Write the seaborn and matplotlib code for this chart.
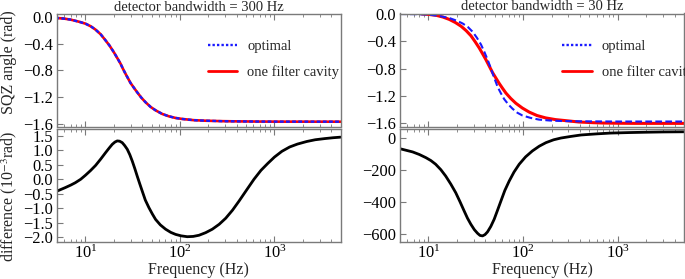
import numpy as np
import pandas as pd
import matplotlib
matplotlib.use("Agg")
import matplotlib.pyplot as plt
import seaborn as sns
from matplotlib.lines import Line2D
from matplotlib.ticker import LogLocator, NullFormatter, LogFormatterSciNotation

# ---------------- data ----------------
# left column: detector bandwidth = 300 Hz
freq_l_top = [4.8, 6, 7, 8.5, 10, 11.4, 12.8, 14.5, 16.3, 18, 20, 21.8, 23.5, 25, 26.5,
              28.2, 30, 32.5, 35.3, 39, 43.3, 49, 55.2, 65, 76.4, 90, 106, 140, 186,
              280, 400, 700, 1000, 5000]
sqz_l_opt = [-0.013, -0.025, -0.04, -0.07, -0.10, -0.14, -0.19, -0.26, -0.35, -0.43,
             -0.53, -0.62, -0.70, -0.78, -0.85, -0.92, -0.99, -1.06, -1.13, -1.21,
             -1.28, -1.35, -1.40, -1.455, -1.49, -1.515, -1.53, -1.548, -1.556, -1.563,
             -1.566, -1.569, -1.570, -1.571]
sqz_l_one = [-0.013, -0.025, -0.04, -0.07, -0.10, -0.14, -0.19, -0.26, -0.35, -0.43,
             -0.53, -0.62, -0.70, -0.78, -0.85, -0.92, -0.99, -1.06, -1.13, -1.21,
             -1.28, -1.35, -1.40, -1.455, -1.49, -1.515, -1.53, -1.548, -1.556, -1.563,
             -1.566, -1.569, -1.570, -1.571]

freq_l_diff = [5, 6.1, 7, 7.8, 8.9, 10, 11.3, 12.8, 14.5, 16.3, 17.8, 19.2, 20.5, 21.7,
               23, 24.5, 26, 27.7, 29.5, 31.3, 33.3, 35.3, 37.5, 39.9, 43, 46.9, 51,
               55.2, 62, 70.5, 80, 90, 103, 119.6, 138, 159, 187, 220, 260, 305, 360,
               423, 510, 607, 720, 850, 1000, 1200, 1450, 1750, 2200, 2700, 3400, 4170,
               5000]
diff_l = [-0.41, -0.29, -0.20, -0.12, 0.0, 0.14, 0.30, 0.48, 0.70, 0.92, 1.08, 1.21,
          1.29, 1.33, 1.32, 1.27, 1.17, 1.04, 0.85, 0.63, 0.37, 0.11, -0.15, -0.41,
          -0.72, -0.98, -1.20, -1.39, -1.58, -1.73, -1.84, -1.91, -1.96, -1.99, -1.98,
          -1.94, -1.85, -1.73, -1.56, -1.35, -1.07, -0.75, -0.36, 0.0, 0.31, 0.55, 0.77,
          0.97, 1.12, 1.22, 1.31, 1.37, 1.41, 1.44, 1.46]

# right column: detector bandwidth = 30 Hz
freq_r_opt = [5, 7.5, 10.2, 13, 16.6, 20, 23, 26, 29.2, 32.5, 35.9, 39, 42.1, 44.8,
              47.5, 50.5, 53.7, 58, 63.1, 70, 77.2, 87, 98.5, 120, 147, 190, 250, 400,
              1000, 5000]
sqz_r_opt = [0.0, -0.003, -0.01, -0.03, -0.06, -0.10, -0.14, -0.19, -0.26, -0.35, -0.45,
             -0.56, -0.67, -0.77, -0.87, -0.97, -1.07, -1.16, -1.25, -1.33, -1.39,
             -1.45, -1.49, -1.525, -1.55, -1.563, -1.57, -1.575, -1.578, -1.578]
freq_r_one = [8.5, 10.2, 12.1, 14.2, 16.6, 19.2, 22.1, 25, 28.1, 31.2, 34.4, 37.3, 40.4,
              44, 47.5, 51.5, 55.9, 60.5, 65.7, 74, 83.7, 98, 116, 140, 173, 220, 281,
              388, 550, 700, 1000, 1500, 5000]
sqz_r_one = [0.0, -0.008, -0.02, -0.045, -0.08, -0.125, -0.18, -0.245, -0.32, -0.41,
             -0.50, -0.585, -0.67, -0.77, -0.86, -0.94, -1.02, -1.09, -1.16, -1.24,
             -1.31, -1.38, -1.44, -1.49, -1.525, -1.55, -1.565, -1.585, -1.595, -1.60,
             -1.603, -1.605, -1.605]

freq_r_diff = [5, 6.8, 8, 9.4, 10.6, 11.9, 13.5, 15.2, 17.2, 19.4, 21.5, 23.8, 25.8, 28,
               30.5, 33, 35, 37.2, 39.5, 42, 45.5, 49.4, 53.5, 58.2, 64, 71.2, 80, 90.8,
               106, 125, 148, 174, 210, 251, 320, 408, 600, 841, 1300, 1897, 3000, 5000]
diff_r = [-69, -89, -105, -125, -143, -166, -200, -240, -290, -344, -400, -458, -503,
          -541, -575, -598, -611, -614, -606, -589, -555, -510, -455, -396, -330, -271,
          -215, -166, -120, -83, -53, -31, -13, -2, 8, 17, 24, 29, 32, 34, 36, 37]

titles = ["detector bandwidth = 300 Hz", "detector bandwidth = 30 Hz"]
legend_labels = ["optimal", "one filter cavity"]
top_yticks = [0.0, -0.4, -0.8, -1.2, -1.6]
left_diff_yticks = [1.5, 1.0, 0.5, 0.0, -0.5, -1.0, -1.5, -2.0]
right_diff_yticks = [0, -200, -400, -600]

# ---------------- style ----------------
sns.set_style("ticks")
plt.rcParams['font.family'] = ['Liberation Serif', 'DejaVu Serif']
plt.rcParams['mathtext.fontset'] = 'stix'
plt.rcParams['axes.unicode_minus'] = True

FS = 10.5      # title / legend
TFS = 11.8     # tick labels
LFS = 11.5     # axis labels
SPINE = '#7a7a7a'
BLUE = '#1a1aff'
RED = '#ff0000'

W, H = 685, 279
fig = plt.figure(figsize=(W / 100, H / 100), dpi=100)


def box(x0, y0, x1, y1):
    return [x0 / W, 1 - y1 / H, (x1 - x0) / W, (y1 - y0) / H]


ax_lt = fig.add_axes(box(57, 14, 340.5, 126.5))
ax_lb = fig.add_axes(box(57, 128.5, 340.5, 241.5))
ax_rt = fig.add_axes(box(400, 13.5, 684, 126.5))
ax_rb = fig.add_axes(box(400, 128.5, 684, 241.5))


def fmt_num(v, nd):
    s = f"{v:.{nd}f}"
    if s.startswith('-'):
        s = '\u2212' + s[1:]
    return s


def style(ax, yticks, nd, ylim, xlabels):
    ax.set_xscale('log')
    ax.set_xlim(5, 5000)
    ax.set_ylim(*ylim)
    ax.xaxis.set_major_locator(LogLocator(base=10, numticks=10))
    ax.xaxis.set_minor_locator(LogLocator(base=10, subs=np.arange(2, 10), numticks=20))
    ax.xaxis.set_minor_formatter(NullFormatter())
    if xlabels:
        ax.xaxis.set_major_formatter(LogFormatterSciNotation())
    else:
        ax.xaxis.set_major_formatter(NullFormatter())
    ax.set_yticks(yticks, [fmt_num(v, nd) for v in yticks])
    for s in ax.spines.values():
        s.set_color(SPINE)
        s.set_linewidth(1.0)
        s.set_visible(True)
    ax.tick_params(axis='both', which='both', direction='in', colors=SPINE,
                   labelcolor='black', labelsize=TFS, pad=3)
    ax.tick_params(axis='x', which='both', top=True, bottom=True, pad=2)
    ax.tick_params(axis='y', which='both', left=True, right=False)
    ax.tick_params(which='major', length=4, width=0.8)
    ax.tick_params(which='minor', length=2, width=0.6)
    ax.set_xlabel('')
    ax.set_ylabel('')


# ---- top-left ----
df = pd.DataFrame({'f': freq_l_top, 'opt': sqz_l_opt, 'one': sqz_l_one})
sns.lineplot(data=df, x='f', y='one', ax=ax_lt, color=RED, lw=1.9, legend=False)
sns.lineplot(data=df, x='f', y='opt', ax=ax_lt, color=BLUE, lw=1.7, legend=False,
             linestyle=(0, (1.6, 1.0)))
style(ax_lt, top_yticks, 1, (-1.643, 0.045), False)
ax_lt.set_title(titles[0], fontsize=FS, pad=1)

# ---- top-right ----
df_o = pd.DataFrame({'f': freq_r_opt, 'v': sqz_r_opt})
df_1 = pd.DataFrame({'f': freq_r_one, 'v': sqz_r_one})
sns.lineplot(data=df_1, x='f', y='v', ax=ax_rt, color=RED, lw=2.2, legend=False)
sns.lineplot(data=df_o, x='f', y='v', ax=ax_rt, color=BLUE, lw=1.5, legend=False,
             linestyle=(0, (3.2, 1.6)))
style(ax_rt, top_yticks, 1, (-1.651, 0.007), False)
ax_rt.set_title(titles[1], fontsize=FS, pad=1)

# ---- bottom-left ----
df = pd.DataFrame({'f': freq_l_diff, 'v': diff_l})
sns.lineplot(data=df, x='f', y='v', ax=ax_lb, color='black', lw=2.0, legend=False)
style(ax_lb, left_diff_yticks, 1, (-2.156, 1.76), True)
ax_lb.set_xlabel('Frequency (Hz)', fontsize=LFS)
ax_lb.xaxis.set_label_coords(0.5, -0.18)

# ---- bottom-right ----
df = pd.DataFrame({'f': freq_r_diff, 'v': diff_r})
sns.lineplot(data=df, x='f', y='v', ax=ax_rb, color='black', lw=2.0, legend=False)
style(ax_rb, right_diff_yticks, 0, (-649, 57.5), True)
ax_rb.set_xlabel('Frequency (Hz)', fontsize=LFS)
ax_rb.xaxis.set_label_coords(0.5, -0.18)

# ---- legends ----
for ax, x0 in ((ax_lt, 0.532), (ax_rt, 0.572)):
    handles = [Line2D([], [], color=BLUE, lw=1.7, linestyle=(0, (1.0, 0.9))),
               Line2D([], [], color=RED, lw=2.0)]
    ax.legend(handles, legend_labels, loc='upper left', bbox_to_anchor=(x0, 0.77),
              frameon=False, fontsize=FS, handlelength=2.0, handletextpad=0.7,
              labelspacing=0.85, borderpad=0, borderaxespad=0)

# ---- y labels ----
fig.text(9 / W, 1 - 62 / H, 'SQZ angle (rad)', rotation=90, ha='center', va='center',
         fontsize=LFS)
fig.text(9 / W, 1 - 196 / H, 'difference (10$^{-3}$rad)', rotation=90, ha='center',
         va='center', fontsize=LFS)

fig.savefig('out.png', dpi=100)
